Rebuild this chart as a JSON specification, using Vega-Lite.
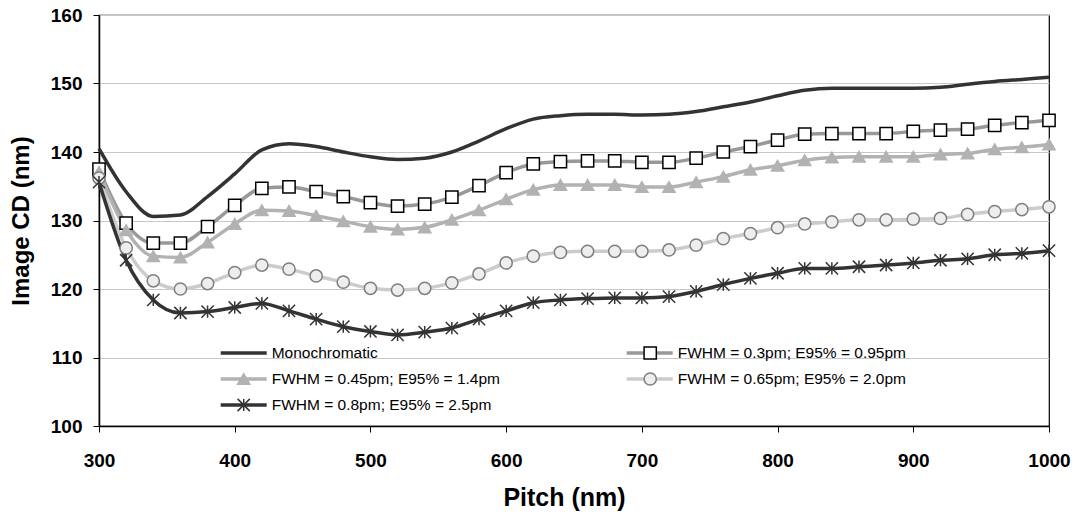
{
"$schema": "https://vega.github.io/schema/vega-lite/v6.json",
"width": 950,
"height": 411,
"autosize": {"type": "none"},
"padding": {"left": 99, "top": 15, "right": 27, "bottom": 88},
"background": "white",
"config": {"view": {"stroke": "#000000", "strokeWidth": 1.2}},
"data": {"values": [
{"pitch":300,"series":"Monochromatic","cd":140.5},{"pitch":320,"series":"Monochromatic","cd":134.2},{"pitch":340,"series":"Monochromatic","cd":130.6},{"pitch":360,"series":"Monochromatic","cd":130.8},{"pitch":380,"series":"Monochromatic","cd":133.5},{"pitch":400,"series":"Monochromatic","cd":136.8},{"pitch":420,"series":"Monochromatic","cd":140.3},{"pitch":440,"series":"Monochromatic","cd":141.2},{"pitch":460,"series":"Monochromatic","cd":140.8},{"pitch":480,"series":"Monochromatic","cd":140.0},{"pitch":500,"series":"Monochromatic","cd":139.3},{"pitch":520,"series":"Monochromatic","cd":138.9},{"pitch":540,"series":"Monochromatic","cd":139.1},{"pitch":560,"series":"Monochromatic","cd":140.0},{"pitch":580,"series":"Monochromatic","cd":141.6},{"pitch":600,"series":"Monochromatic","cd":143.4},{"pitch":620,"series":"Monochromatic","cd":144.8},{"pitch":640,"series":"Monochromatic","cd":145.3},{"pitch":660,"series":"Monochromatic","cd":145.5},{"pitch":680,"series":"Monochromatic","cd":145.5},{"pitch":700,"series":"Monochromatic","cd":145.4},{"pitch":720,"series":"Monochromatic","cd":145.5},{"pitch":740,"series":"Monochromatic","cd":145.9},{"pitch":760,"series":"Monochromatic","cd":146.6},{"pitch":780,"series":"Monochromatic","cd":147.3},{"pitch":800,"series":"Monochromatic","cd":148.2},{"pitch":820,"series":"Monochromatic","cd":149.0},{"pitch":840,"series":"Monochromatic","cd":149.3},{"pitch":860,"series":"Monochromatic","cd":149.3},{"pitch":880,"series":"Monochromatic","cd":149.3},{"pitch":900,"series":"Monochromatic","cd":149.3},{"pitch":920,"series":"Monochromatic","cd":149.45},{"pitch":940,"series":"Monochromatic","cd":149.9},{"pitch":960,"series":"Monochromatic","cd":150.3},{"pitch":980,"series":"Monochromatic","cd":150.6},{"pitch":1000,"series":"Monochromatic","cd":150.9},
{"pitch":300,"series":"FWHM = 0.3pm; E95% = 0.95pm","cd":137.5},{"pitch":320,"series":"FWHM = 0.3pm; E95% = 0.95pm","cd":129.6},{"pitch":340,"series":"FWHM = 0.3pm; E95% = 0.95pm","cd":126.7},{"pitch":360,"series":"FWHM = 0.3pm; E95% = 0.95pm","cd":126.7},{"pitch":380,"series":"FWHM = 0.3pm; E95% = 0.95pm","cd":129.1},{"pitch":400,"series":"FWHM = 0.3pm; E95% = 0.95pm","cd":132.2},{"pitch":420,"series":"FWHM = 0.3pm; E95% = 0.95pm","cd":134.7},{"pitch":440,"series":"FWHM = 0.3pm; E95% = 0.95pm","cd":134.9},{"pitch":460,"series":"FWHM = 0.3pm; E95% = 0.95pm","cd":134.2},{"pitch":480,"series":"FWHM = 0.3pm; E95% = 0.95pm","cd":133.5},{"pitch":500,"series":"FWHM = 0.3pm; E95% = 0.95pm","cd":132.6},{"pitch":520,"series":"FWHM = 0.3pm; E95% = 0.95pm","cd":132.1},{"pitch":540,"series":"FWHM = 0.3pm; E95% = 0.95pm","cd":132.4},{"pitch":560,"series":"FWHM = 0.3pm; E95% = 0.95pm","cd":133.4},{"pitch":580,"series":"FWHM = 0.3pm; E95% = 0.95pm","cd":135.1},{"pitch":600,"series":"FWHM = 0.3pm; E95% = 0.95pm","cd":137.0},{"pitch":620,"series":"FWHM = 0.3pm; E95% = 0.95pm","cd":138.25},{"pitch":640,"series":"FWHM = 0.3pm; E95% = 0.95pm","cd":138.6},{"pitch":660,"series":"FWHM = 0.3pm; E95% = 0.95pm","cd":138.7},{"pitch":680,"series":"FWHM = 0.3pm; E95% = 0.95pm","cd":138.7},{"pitch":700,"series":"FWHM = 0.3pm; E95% = 0.95pm","cd":138.5},{"pitch":720,"series":"FWHM = 0.3pm; E95% = 0.95pm","cd":138.5},{"pitch":740,"series":"FWHM = 0.3pm; E95% = 0.95pm","cd":139.1},{"pitch":760,"series":"FWHM = 0.3pm; E95% = 0.95pm","cd":140.0},{"pitch":780,"series":"FWHM = 0.3pm; E95% = 0.95pm","cd":140.8},{"pitch":800,"series":"FWHM = 0.3pm; E95% = 0.95pm","cd":141.75},{"pitch":820,"series":"FWHM = 0.3pm; E95% = 0.95pm","cd":142.6},{"pitch":840,"series":"FWHM = 0.3pm; E95% = 0.95pm","cd":142.7},{"pitch":860,"series":"FWHM = 0.3pm; E95% = 0.95pm","cd":142.7},{"pitch":880,"series":"FWHM = 0.3pm; E95% = 0.95pm","cd":142.7},{"pitch":900,"series":"FWHM = 0.3pm; E95% = 0.95pm","cd":143.0},{"pitch":920,"series":"FWHM = 0.3pm; E95% = 0.95pm","cd":143.2},{"pitch":940,"series":"FWHM = 0.3pm; E95% = 0.95pm","cd":143.35},{"pitch":960,"series":"FWHM = 0.3pm; E95% = 0.95pm","cd":143.9},{"pitch":980,"series":"FWHM = 0.3pm; E95% = 0.95pm","cd":144.3},{"pitch":1000,"series":"FWHM = 0.3pm; E95% = 0.95pm","cd":144.6},
{"pitch":300,"series":"FWHM = 0.45pm; E95% = 1.4pm","cd":137.1},{"pitch":320,"series":"FWHM = 0.45pm; E95% = 1.4pm","cd":128.6},{"pitch":340,"series":"FWHM = 0.45pm; E95% = 1.4pm","cd":124.8},{"pitch":360,"series":"FWHM = 0.45pm; E95% = 1.4pm","cd":124.6},{"pitch":380,"series":"FWHM = 0.45pm; E95% = 1.4pm","cd":126.8},{"pitch":400,"series":"FWHM = 0.45pm; E95% = 1.4pm","cd":129.5},{"pitch":420,"series":"FWHM = 0.45pm; E95% = 1.4pm","cd":131.5},{"pitch":440,"series":"FWHM = 0.45pm; E95% = 1.4pm","cd":131.4},{"pitch":460,"series":"FWHM = 0.45pm; E95% = 1.4pm","cd":130.7},{"pitch":480,"series":"FWHM = 0.45pm; E95% = 1.4pm","cd":129.9},{"pitch":500,"series":"FWHM = 0.45pm; E95% = 1.4pm","cd":129.1},{"pitch":520,"series":"FWHM = 0.45pm; E95% = 1.4pm","cd":128.7},{"pitch":540,"series":"FWHM = 0.45pm; E95% = 1.4pm","cd":129.0},{"pitch":560,"series":"FWHM = 0.45pm; E95% = 1.4pm","cd":130.1},{"pitch":580,"series":"FWHM = 0.45pm; E95% = 1.4pm","cd":131.5},{"pitch":600,"series":"FWHM = 0.45pm; E95% = 1.4pm","cd":133.1},{"pitch":620,"series":"FWHM = 0.45pm; E95% = 1.4pm","cd":134.5},{"pitch":640,"series":"FWHM = 0.45pm; E95% = 1.4pm","cd":135.2},{"pitch":660,"series":"FWHM = 0.45pm; E95% = 1.4pm","cd":135.2},{"pitch":680,"series":"FWHM = 0.45pm; E95% = 1.4pm","cd":135.2},{"pitch":700,"series":"FWHM = 0.45pm; E95% = 1.4pm","cd":134.9},{"pitch":720,"series":"FWHM = 0.45pm; E95% = 1.4pm","cd":134.9},{"pitch":740,"series":"FWHM = 0.45pm; E95% = 1.4pm","cd":135.6},{"pitch":760,"series":"FWHM = 0.45pm; E95% = 1.4pm","cd":136.4},{"pitch":780,"series":"FWHM = 0.45pm; E95% = 1.4pm","cd":137.4},{"pitch":800,"series":"FWHM = 0.45pm; E95% = 1.4pm","cd":138.0},{"pitch":820,"series":"FWHM = 0.45pm; E95% = 1.4pm","cd":138.8},{"pitch":840,"series":"FWHM = 0.45pm; E95% = 1.4pm","cd":139.2},{"pitch":860,"series":"FWHM = 0.45pm; E95% = 1.4pm","cd":139.3},{"pitch":880,"series":"FWHM = 0.45pm; E95% = 1.4pm","cd":139.3},{"pitch":900,"series":"FWHM = 0.45pm; E95% = 1.4pm","cd":139.3},{"pitch":920,"series":"FWHM = 0.45pm; E95% = 1.4pm","cd":139.65},{"pitch":940,"series":"FWHM = 0.45pm; E95% = 1.4pm","cd":139.8},{"pitch":960,"series":"FWHM = 0.45pm; E95% = 1.4pm","cd":140.4},{"pitch":980,"series":"FWHM = 0.45pm; E95% = 1.4pm","cd":140.7},{"pitch":1000,"series":"FWHM = 0.45pm; E95% = 1.4pm","cd":141.1},
{"pitch":300,"series":"FWHM = 0.65pm; E95% = 2.0pm","cd":136.2},{"pitch":320,"series":"FWHM = 0.65pm; E95% = 2.0pm","cd":126.0},{"pitch":340,"series":"FWHM = 0.65pm; E95% = 2.0pm","cd":121.2},{"pitch":360,"series":"FWHM = 0.65pm; E95% = 2.0pm","cd":120.0},{"pitch":380,"series":"FWHM = 0.65pm; E95% = 2.0pm","cd":120.8},{"pitch":400,"series":"FWHM = 0.65pm; E95% = 2.0pm","cd":122.4},{"pitch":420,"series":"FWHM = 0.65pm; E95% = 2.0pm","cd":123.5},{"pitch":440,"series":"FWHM = 0.65pm; E95% = 2.0pm","cd":122.9},{"pitch":460,"series":"FWHM = 0.65pm; E95% = 2.0pm","cd":121.9},{"pitch":480,"series":"FWHM = 0.65pm; E95% = 2.0pm","cd":121.0},{"pitch":500,"series":"FWHM = 0.65pm; E95% = 2.0pm","cd":120.1},{"pitch":520,"series":"FWHM = 0.65pm; E95% = 2.0pm","cd":119.85},{"pitch":540,"series":"FWHM = 0.65pm; E95% = 2.0pm","cd":120.1},{"pitch":560,"series":"FWHM = 0.65pm; E95% = 2.0pm","cd":120.9},{"pitch":580,"series":"FWHM = 0.65pm; E95% = 2.0pm","cd":122.2},{"pitch":600,"series":"FWHM = 0.65pm; E95% = 2.0pm","cd":123.8},{"pitch":620,"series":"FWHM = 0.65pm; E95% = 2.0pm","cd":124.8},{"pitch":640,"series":"FWHM = 0.65pm; E95% = 2.0pm","cd":125.35},{"pitch":660,"series":"FWHM = 0.65pm; E95% = 2.0pm","cd":125.5},{"pitch":680,"series":"FWHM = 0.65pm; E95% = 2.0pm","cd":125.5},{"pitch":700,"series":"FWHM = 0.65pm; E95% = 2.0pm","cd":125.5},{"pitch":720,"series":"FWHM = 0.65pm; E95% = 2.0pm","cd":125.7},{"pitch":740,"series":"FWHM = 0.65pm; E95% = 2.0pm","cd":126.4},{"pitch":760,"series":"FWHM = 0.65pm; E95% = 2.0pm","cd":127.35},{"pitch":780,"series":"FWHM = 0.65pm; E95% = 2.0pm","cd":128.1},{"pitch":800,"series":"FWHM = 0.65pm; E95% = 2.0pm","cd":128.95},{"pitch":820,"series":"FWHM = 0.65pm; E95% = 2.0pm","cd":129.5},{"pitch":840,"series":"FWHM = 0.65pm; E95% = 2.0pm","cd":129.8},{"pitch":860,"series":"FWHM = 0.65pm; E95% = 2.0pm","cd":130.1},{"pitch":880,"series":"FWHM = 0.65pm; E95% = 2.0pm","cd":130.1},{"pitch":900,"series":"FWHM = 0.65pm; E95% = 2.0pm","cd":130.2},{"pitch":920,"series":"FWHM = 0.65pm; E95% = 2.0pm","cd":130.3},{"pitch":940,"series":"FWHM = 0.65pm; E95% = 2.0pm","cd":130.9},{"pitch":960,"series":"FWHM = 0.65pm; E95% = 2.0pm","cd":131.3},{"pitch":980,"series":"FWHM = 0.65pm; E95% = 2.0pm","cd":131.6},{"pitch":1000,"series":"FWHM = 0.65pm; E95% = 2.0pm","cd":132.0},
{"pitch":300,"series":"FWHM = 0.8pm; E95% = 2.5pm","cd":135.6},{"pitch":320,"series":"FWHM = 0.8pm; E95% = 2.5pm","cd":124.2},{"pitch":340,"series":"FWHM = 0.8pm; E95% = 2.5pm","cd":118.4},{"pitch":360,"series":"FWHM = 0.8pm; E95% = 2.5pm","cd":116.5},{"pitch":380,"series":"FWHM = 0.8pm; E95% = 2.5pm","cd":116.7},{"pitch":400,"series":"FWHM = 0.8pm; E95% = 2.5pm","cd":117.3},{"pitch":420,"series":"FWHM = 0.8pm; E95% = 2.5pm","cd":117.9},{"pitch":440,"series":"FWHM = 0.8pm; E95% = 2.5pm","cd":116.8},{"pitch":460,"series":"FWHM = 0.8pm; E95% = 2.5pm","cd":115.6},{"pitch":480,"series":"FWHM = 0.8pm; E95% = 2.5pm","cd":114.5},{"pitch":500,"series":"FWHM = 0.8pm; E95% = 2.5pm","cd":113.8},{"pitch":520,"series":"FWHM = 0.8pm; E95% = 2.5pm","cd":113.3},{"pitch":540,"series":"FWHM = 0.8pm; E95% = 2.5pm","cd":113.7},{"pitch":560,"series":"FWHM = 0.8pm; E95% = 2.5pm","cd":114.3},{"pitch":580,"series":"FWHM = 0.8pm; E95% = 2.5pm","cd":115.6},{"pitch":600,"series":"FWHM = 0.8pm; E95% = 2.5pm","cd":116.8},{"pitch":620,"series":"FWHM = 0.8pm; E95% = 2.5pm","cd":118.0},{"pitch":640,"series":"FWHM = 0.8pm; E95% = 2.5pm","cd":118.4},{"pitch":660,"series":"FWHM = 0.8pm; E95% = 2.5pm","cd":118.6},{"pitch":680,"series":"FWHM = 0.8pm; E95% = 2.5pm","cd":118.7},{"pitch":700,"series":"FWHM = 0.8pm; E95% = 2.5pm","cd":118.7},{"pitch":720,"series":"FWHM = 0.8pm; E95% = 2.5pm","cd":118.9},{"pitch":740,"series":"FWHM = 0.8pm; E95% = 2.5pm","cd":119.65},{"pitch":760,"series":"FWHM = 0.8pm; E95% = 2.5pm","cd":120.65},{"pitch":780,"series":"FWHM = 0.8pm; E95% = 2.5pm","cd":121.55},{"pitch":800,"series":"FWHM = 0.8pm; E95% = 2.5pm","cd":122.3},{"pitch":820,"series":"FWHM = 0.8pm; E95% = 2.5pm","cd":123.0},{"pitch":840,"series":"FWHM = 0.8pm; E95% = 2.5pm","cd":123.0},{"pitch":860,"series":"FWHM = 0.8pm; E95% = 2.5pm","cd":123.25},{"pitch":880,"series":"FWHM = 0.8pm; E95% = 2.5pm","cd":123.5},{"pitch":900,"series":"FWHM = 0.8pm; E95% = 2.5pm","cd":123.8},{"pitch":920,"series":"FWHM = 0.8pm; E95% = 2.5pm","cd":124.2},{"pitch":940,"series":"FWHM = 0.8pm; E95% = 2.5pm","cd":124.4},{"pitch":960,"series":"FWHM = 0.8pm; E95% = 2.5pm","cd":125.0},{"pitch":980,"series":"FWHM = 0.8pm; E95% = 2.5pm","cd":125.2},{"pitch":1000,"series":"FWHM = 0.8pm; E95% = 2.5pm","cd":125.6}
]},
"encoding": {
  "x": {"field": "pitch", "type": "quantitative",
    "scale": {"domain": [300, 1000], "nice": false},
    "axis": {"title": "Pitch (nm)", "values": [300,400,500,600,700,800,900,1000], "format": "d", "grid": false,
      "domainColor": "#000000", "domainWidth": 1.5, "tickColor": "#000000", "tickWidth": 1, "tickSize": 6,
      "labelFont": "Liberation Sans", "labelFontWeight": "bold", "labelFontSize": 19, "labelColor": "#000000", "labelPadding": 19, "labelFlush": false,
      "titleFont": "Liberation Sans", "titleFontWeight": "bold", "titleFontSize": 25, "titleColor": "#000000", "titlePadding": 15, "titleX": 465, "titleAlign": "center"}},
  "y": {"field": "cd", "type": "quantitative",
    "scale": {"domain": [100, 160], "nice": false, "zero": false},
    "axis": {"title": "Image CD (nm)", "values": [100,110,120,130,140,150,160], "grid": true, "gridColor": "#c8c8c8", "gridWidth": 1,
      "domainColor": "#000000", "domainWidth": 1.5, "tickColor": "#000000", "tickWidth": 1, "tickSize": 6,
      "labelFont": "Liberation Sans", "labelFontWeight": "bold", "labelFontSize": 19, "labelColor": "#000000", "labelPadding": 11,
      "titleFont": "Liberation Sans", "titleFontWeight": "bold", "titleFontSize": 24, "titleColor": "#000000", "titlePadding": 17}}
},
"layer": [
  {"mark": {"type": "line", "interpolate": "monotone", "strokeWidth": 3.5},
   "encoding": {
     "color": {"field": "series", "type": "nominal",
       "sort": ["Monochromatic", "FWHM = 0.3pm; E95% = 0.95pm", "FWHM = 0.45pm; E95% = 1.4pm", "FWHM = 0.65pm; E95% = 2.0pm", "FWHM = 0.8pm; E95% = 2.5pm"],
       "scale": {"range": ["#333333", "#999999", "#b2b2b2", "#cccccc", "#333333"]},
       "legend": {"orient": "none", "direction": "horizontal", "legendX": 119.7, "legendY": 329, "columns": 2, "columnPadding": 124, "rowPadding": 8, "clipHeight": 18,
         "symbolType": "stroke", "symbolSize": 2116, "symbolStrokeWidth": 3.5, "labelFont": "Liberation Sans", "labelFontSize": 15.5, "labelColor": "#000000",
         "labelOffset": 3, "labelLimit": 400, "title": null, "padding": 0}}
   }},
  {"transform": [{"filter": "datum.series !== 'Monochromatic'"}],
   "mark": {"type": "point", "size": 150, "strokeWidth": 1.5, "opacity": 1},
   "encoding": {
     "shape": {"field": "series", "type": "nominal",
       "scale": {"domain": ["Monochromatic", "FWHM = 0.3pm; E95% = 0.95pm", "FWHM = 0.45pm; E95% = 1.4pm", "FWHM = 0.65pm; E95% = 2.0pm", "FWHM = 0.8pm; E95% = 2.5pm"],
         "range": ["circle", "square", "triangle-up", "circle", "M-1,-1L1,1M-1,1L1,-1M0,-1L0,1"]},
       "legend": {"orient": "none", "direction": "horizontal", "legendX": 136.95, "legendY": 329, "columns": 2, "columnPadding": 387.5, "rowPadding": 8, "clipHeight": 18,
         "symbolSize": 150, "symbolStrokeWidth": 1.5, "labelFont": "Liberation Sans", "labelFontSize": 15.5, "labelExpr": "''",
         "labelOffset": 3, "labelLimit": 400, "title": null, "padding": 0}},
     "fill": {"field": "series", "type": "nominal",
       "scale": {"domain": ["Monochromatic", "FWHM = 0.3pm; E95% = 0.95pm", "FWHM = 0.45pm; E95% = 1.4pm", "FWHM = 0.65pm; E95% = 2.0pm", "FWHM = 0.8pm; E95% = 2.5pm"],
         "range": ["transparent", "#ffffff", "#b2b2b2", "#eeeeee", "transparent"]},
       "legend": {"orient": "none", "direction": "horizontal", "legendX": 136.95, "legendY": 329, "columns": 2, "columnPadding": 387.5, "rowPadding": 8, "clipHeight": 18,
         "symbolSize": 150, "symbolStrokeWidth": 1.5, "labelFont": "Liberation Sans", "labelFontSize": 15.5, "labelExpr": "''",
         "labelOffset": 3, "labelLimit": 400, "title": null, "padding": 0}},
     "stroke": {"field": "series", "type": "nominal",
       "scale": {"domain": ["Monochromatic", "FWHM = 0.3pm; E95% = 0.95pm", "FWHM = 0.45pm; E95% = 1.4pm", "FWHM = 0.65pm; E95% = 2.0pm", "FWHM = 0.8pm; E95% = 2.5pm"],
         "range": ["transparent", "#000000", "#b2b2b2", "#7f7f7f", "#333333"]},
       "legend": {"orient": "none", "direction": "horizontal", "legendX": 136.95, "legendY": 329, "columns": 2, "columnPadding": 387.5, "rowPadding": 8, "clipHeight": 18,
         "symbolSize": 150, "symbolStrokeWidth": 1.5, "labelFont": "Liberation Sans", "labelFontSize": 15.5, "labelExpr": "''",
         "labelOffset": 3, "labelLimit": 400, "title": null, "padding": 0}}
   }}
]
}
